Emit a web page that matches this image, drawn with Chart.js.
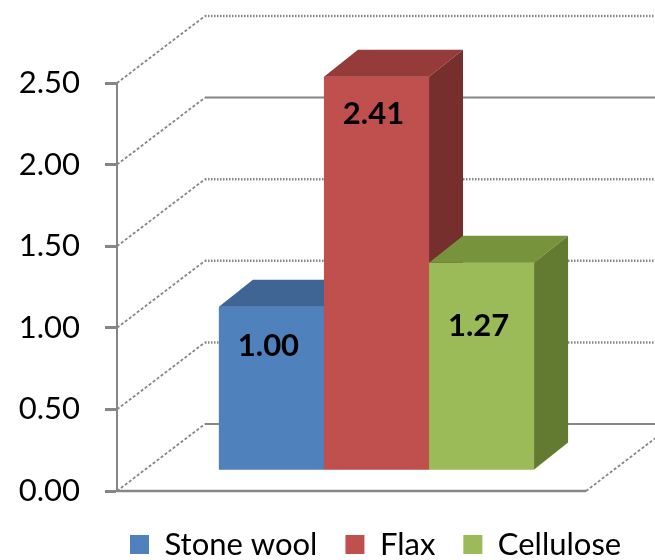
<!DOCTYPE html>
<html>
<head>
<meta charset="utf-8">
<title>Insulation comparison</title>
<script src="https://cdn.jsdelivr.net/npm/chart.js@4/dist/chart.umd.min.js"></script>
<style>
  html, body { margin: 0; padding: 0; background: #ffffff; }
  canvas { display: block; }
</style>
</head>
<body>
<canvas id="insulation-chart" width="655" height="560"></canvas>
<script>
// values
const categories = [''];
const seriesNames = ['Stone wool', 'Flax', 'Cellulose'];
const stoneWool = [1.00];
const flax = [2.41];
const cellulose = [1.27];
const yTickValues = [0.00, 0.50, 1.00, 1.50, 2.00, 2.50];

// oblique projection of the 3D box
const WALL_DEPTH = { x: 88, y: -67 };  // side wall / floor depth
const BAR_FRONT = { x: 25, y: -21 };   // bars stand a bit behind the front edge
const BAR_DEPTH = { x: 34, y: -27 };   // depth of each column
const SOLID_BACK_LINES = [0, 2];       // the rest of the back wall lines are dotted
const FONT = 'Lato, "Open Sans", sans-serif';
const GRID = '#868686';

function line(ctx, x1, y1, x2, y2) {
  ctx.beginPath();
  ctx.moveTo(x1, y1);
  ctx.lineTo(x2, y2);
  ctx.stroke();
}

function quad(ctx, pts, color) {
  ctx.fillStyle = color;
  ctx.beginPath();
  ctx.moveTo(pts[0], pts[1]);
  for (let i = 2; i < pts.length; i += 2) ctx.lineTo(pts[i], pts[i + 1]);
  ctx.closePath();
  ctx.fill();
}

const box3d = {
  id: 'box3d',
  afterLayout(chart) {
    // legend sits under the columns, not under the whole canvas
    const lg = chart.legend;
    const h = lg.bottom - lg.top;
    lg.left = 102;
    lg.right = 655;
    lg.top = 501;
    lg.bottom = 501 + h;
  },
  beforeDatasetsDraw(chart) {
    const { ctx, chartArea: a, scales: { y } } = chart;
    ctx.save();
    ctx.strokeStyle = GRID;
    yTickValues.forEach(v => {
      const py = y.getPixelForValue(v);
      const bx = a.left + WALL_DEPTH.x;
      const by = py + WALL_DEPTH.y;
      // side wall diagonal
      ctx.setLineDash([3, 2]);
      ctx.lineWidth = 1.8;
      line(ctx, a.left, py, bx, by);
      // back wall line
      ctx.setLineDash(SOLID_BACK_LINES.includes(v) ? [] : [1.5, 1.5]);
      ctx.lineWidth = SOLID_BACK_LINES.includes(v) ? 2 : 2.5;
      line(ctx, bx, by, a.right + WALL_DEPTH.x, by);
    });
    // floor edges
    const y0 = y.getPixelForValue(0);
    ctx.setLineDash([]);
    ctx.lineWidth = 2.5;
    line(ctx, a.left, y0, a.right, y0);
    ctx.setLineDash([3, 2]);
    ctx.lineWidth = 1.8;
    line(ctx, a.right, y0, a.right + WALL_DEPTH.x, y0 + WALL_DEPTH.y);
    ctx.restore();

    // columns are drawn pushed back into the box
    ctx.save();
    ctx.translate(BAR_FRONT.x, BAR_FRONT.y);
  },
  afterDatasetsDraw(chart) {
    const { ctx } = chart;
    const dx = BAR_DEPTH.x, dy = BAR_DEPTH.y;
    // paint left to right so each column hides the side of the one before
    chart.data.datasets.forEach((ds, i) => {
      const bar = chart.getDatasetMeta(i).data[0];
      const { x, y, width, base } = bar.getProps(['x', 'y', 'width', 'base'], true);
      const l = x - width / 2, r = x + width / 2;
      bar.draw(ctx);
      quad(ctx, [l, y, r, y, r + dx, y + dy, l + dx, y + dy], ds.topColor);
      quad(ctx, [r, y, r + dx, y + dy, r + dx, base + dy, r, base], ds.sideColor);
    });
    // value labels on the front faces
    ctx.font = 'bold 31px ' + FONT;
    ctx.fillStyle = '#000000';
    ctx.textAlign = 'center';
    ctx.textBaseline = 'middle';
    chart.data.datasets.forEach((ds, i) => {
      const bar = chart.getDatasetMeta(i).data[0];
      const { x, y } = bar.getProps(['x', 'y'], true);
      ctx.fillText(ds.data[0].toFixed(2), x - 3, y + ds.labelDrop);
    });
    ctx.restore();
  }
};

new Chart(document.getElementById('insulation-chart'), {
  type: 'bar',
  data: {
    labels: categories,
    datasets: [
      { label: seriesNames[0], data: stoneWool, backgroundColor: '#4f81bd',
        topColor: '#3e6594', sideColor: '#385d8a', labelDrop: 39 },
      { label: seriesNames[1], data: flax, backgroundColor: '#c0504d',
        topColor: '#953b39', sideColor: '#772f2d', labelDrop: 37 },
      { label: seriesNames[2], data: cellulose, backgroundColor: '#9bbb59',
        topColor: '#77933c', sideColor: '#637a31', labelDrop: 63 }
    ]
  },
  options: {
    responsive: false,
    animation: false,
    events: [],
    clip: false,
    borderWidth: 0,
    categoryPercentage: 0.672,
    barPercentage: 1,
    layout: { padding: { top: 83, left: 19, right: 69, bottom: 0 } },
    plugins: {
      tooltip: { enabled: false },
      legend: {
        position: 'bottom',
        align: 'start',
        labels: {
          boxWidth: 19,
          boxHeight: 19,
          padding: 28,
          color: '#000000',
          font: { family: FONT, size: 31 }
        }
      }
    },
    scales: {
      x: { display: false },
      y: {
        min: yTickValues[0],
        max: yTickValues[yTickValues.length - 1],
        afterFit(scale) { scale.width = 98; },
        ticks: {
          stepSize: yTickValues[1] - yTickValues[0],
          padding: 25,
          color: '#000000',
          font: { family: FONT, size: 31 },
          callback: v => v.toFixed(2)
        },
        grid: {
          drawOnChartArea: false,
          drawTicks: true,
          tickLength: 12,
          tickWidth: 3,
          tickColor: GRID
        },
        border: { display: true, color: GRID, width: 2, dash: [2, 2] }
      }
    }
  },
  plugins: [box3d]
});
</script>
</body>
</html>
